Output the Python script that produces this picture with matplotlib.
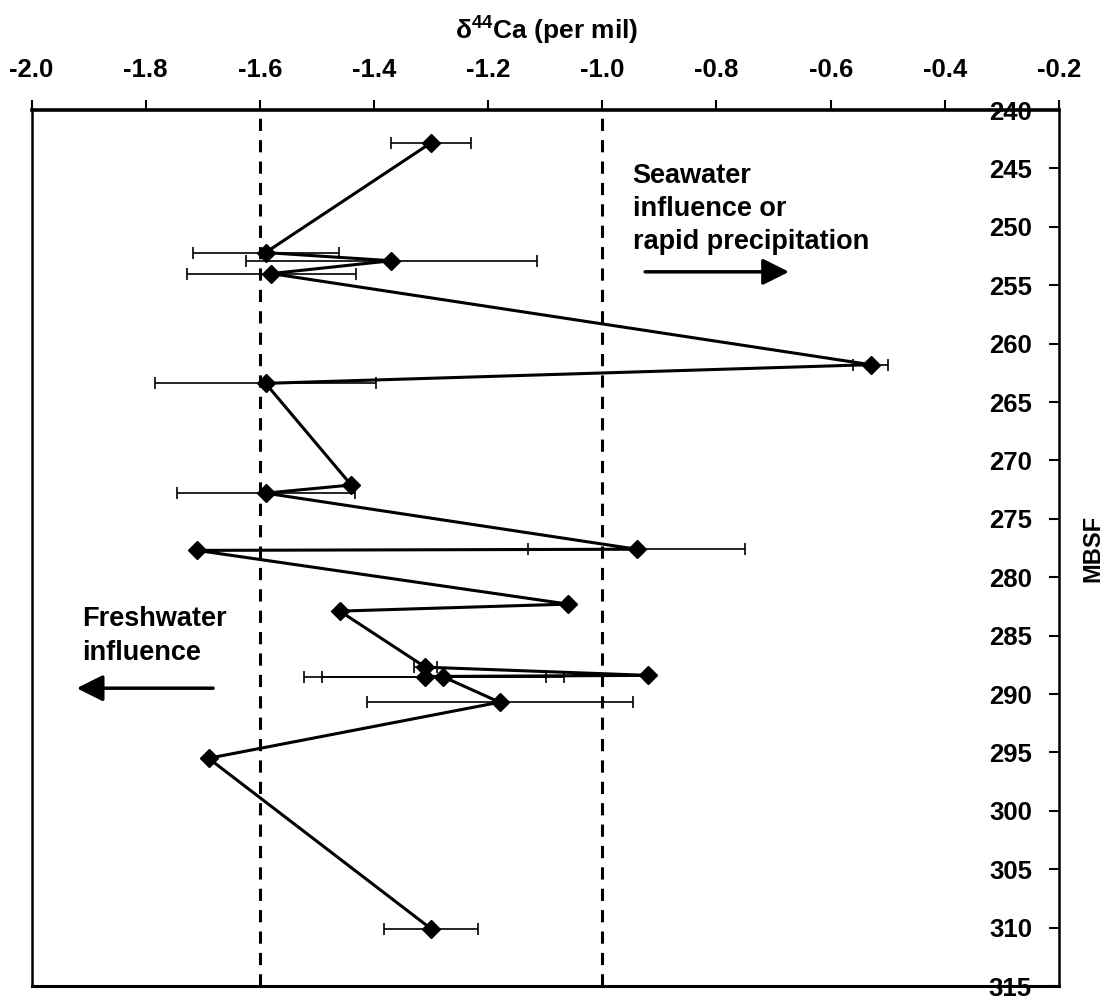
import numpy as np
import matplotlib
matplotlib.use("Agg")
import matplotlib.pyplot as plt

plt.rcParams['font.family'] = ['Liberation Sans', 'DejaVu Sans']
plt.rcParams['axes.unicode_minus'] = False
plt.rcParams['mathtext.fontset'] = 'custom'
plt.rcParams['mathtext.rm'] = 'Liberation Sans'
plt.rcParams['mathtext.bf'] = 'Liberation Sans:bold'

# d44Ca values (per mil), depth (mbsf) and x error, in depth order
d44ca = [-1.30, -1.59, -1.37, -1.58, -0.53, -1.59, -1.44, -1.59, -0.94, -1.71,
         -1.06, -1.46, -1.31, -0.92, -1.31, -1.28, -1.18, -1.69, -1.30]
depth = [242.8, 252.2, 252.9, 254.0, 261.8, 263.4, 272.1, 272.8, 277.6, 277.7,
         282.3, 282.9, 287.7, 288.4, 288.5, 288.5, 290.7, 295.5, 310.1]
err = [0.07, 0.128, 0.255, 0.148, 0.03, 0.194, 0.0, 0.156, 0.19, 0.0,
       0.0, 0.0, 0.02, 0.0, 0.212, 0.212, 0.233, 0.0, 0.082]

x_ticks = [-2.0, -1.8, -1.6, -1.4, -1.2, -1.0, -0.8, -0.6, -0.4, -0.2]
x_labels = ['-2.0', '-1.8', '-1.6', '-1.4', '-1.2', '-1.0', '-0.8', '-0.6', '-0.4', '-0.2']
y_ticks = list(range(240, 316, 5))
ref_lines = [-1.6, -1.0]

fig = plt.figure(figsize=(11.12, 9.97), dpi=100)
ax = fig.add_axes([0.0284, 0.011, 0.9239, 0.8786])

for xv in ref_lines:
    ax.axvline(xv, color='black', lw=2.2, ls=(0, (4, 3)), zorder=1)

ax.errorbar(d44ca, depth, xerr=err, fmt='none', ecolor='black', elinewidth=1.2,
            capsize=4, capthick=1.2, zorder=2)
ax.plot(d44ca, depth, color='black', lw=2.2, marker='D', markersize=9.5,
        markerfacecolor='black', markeredgecolor='black', zorder=3)

ax.set_xlim(-2.0, -0.2)
ax.set_ylim(315, 240)

ax.xaxis.tick_top()
ax.set_xticks(x_ticks, x_labels)
ax.tick_params(axis='x', direction='out', length=7, width=1.5, pad=13,
               labelsize=18.5)
for lab in ax.get_xticklabels():
    lab.set_fontweight('bold')

ax.set_yticks(y_ticks)
ax.tick_params(axis='y', left=False, right=True, labelleft=False, labelright=True,
               direction='in', length=7, width=1.5, pad=-19.5, labelsize=18.5)
for lab in ax.get_yticklabels():
    lab.set_horizontalalignment('right')
    lab.set_fontweight('bold')

ax.spines['top'].set_linewidth(2.6)
ax.spines['bottom'].set_linewidth(2.2)
for s in ['left', 'right']:
    ax.spines[s].set_linewidth(1.8)

fig.text(0.492, 1 - 30 / 997, 'δ$^{\\mathbf{44}}$Ca (per mil)', ha='center', va='center',
         fontsize=19, fontweight='bold')
ax.text(1.033, 0.5, 'MBSF', transform=ax.transAxes, rotation=90, ha='center',
        va='center', fontsize=17, fontweight='bold')

ax.text(-0.947, 244.5, 'Seawater\ninfluence or\nrapid precipitation', ha='left', va='top',
        fontsize=19.5, fontweight='bold', linespacing=1.37)
ax.annotate('', xy=(-0.673, 253.85), xytext=(-0.925, 253.85),
            arrowprops=dict(arrowstyle='-|>', color='black', lw=2.5, mutation_scale=40,
                            shrinkA=0, shrinkB=0))

ax.text(-1.912, 282.5, 'Freshwater\ninfluence', ha='left', va='top',
        fontsize=19.5, fontweight='bold', linespacing=1.37)
ax.annotate('', xy=(-1.921, 289.5), xytext=(-1.682, 289.5),
            arrowprops=dict(arrowstyle='-|>', color='black', lw=2.5, mutation_scale=40,
                            shrinkA=0, shrinkB=0))

fig.savefig('out.png', dpi=100)
